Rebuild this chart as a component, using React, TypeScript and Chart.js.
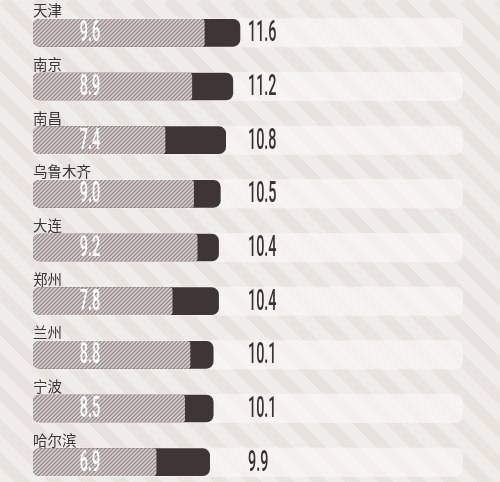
import { useEffect, useRef } from 'react';
import { Chart, ChartConfiguration, Plugin, registerables } from 'chart.js';

Chart.register(...registerables);

// city rows, top to bottom
const cities = ['天津', '南京', '南昌', '乌鲁木齐', '大连', '郑州', '兰州', '宁波', '哈尔滨'];
// dark bar (total) values
const totalValues = [11.6, 11.2, 10.8, 10.5, 10.4, 10.4, 10.1, 10.1, 9.9];
// hatched bar values
const innerValues = [9.6, 8.9, 7.4, 9.0, 9.2, 7.8, 8.8, 8.5, 6.9];

const X_MAX = 24.1;

function makeHatch(): CanvasPattern | string {
    const s = 4;
    const c = document.createElement('canvas');
    c.width = s;
    c.height = s;
    const g = c.getContext('2d');
    if (!g) return '#a39696';
    g.fillStyle = '#9a8d8d';
    g.fillRect(0, 0, s, s);
    g.strokeStyle = '#ddd5d5';
    g.lineWidth = 1.3;
    g.beginPath();
    g.moveTo(0, s); g.lineTo(s, 0);
    g.moveTo(-1, 1); g.lineTo(1, -1);
    g.moveTo(s - 1, s + 1); g.lineTo(s + 1, s - 1);
    g.stroke();
    return g.createPattern(c, 'repeat') || '#a39696';
}

// faint diagonal stripes behind everything
const backgroundPlugin: Plugin = {
    id: 'stripes',
    beforeDraw(chart) {
        const { ctx, width, height } = chart;
        ctx.save();
        ctx.fillStyle = '#efedea';
        ctx.fillRect(0, 0, width, height);
        ctx.strokeStyle = 'rgba(224, 214, 204, 0.4)';
        ctx.lineWidth = 11;
        for (let k = -height; k < width + height; k += 33) {
            ctx.beginPath();
            ctx.moveTo(k, 0);
            ctx.lineTo(k + height, height);
            ctx.stroke();
        }
        ctx.restore();
    },
};

// pale rounded track behind each row
const trackPlugin: Plugin = {
    id: 'tracks',
    beforeDatasetsDraw(chart) {
        const { ctx, chartArea } = chart;
        const meta = chart.getDatasetMeta(0);
        ctx.save();
        ctx.fillStyle = 'rgba(250, 249, 248, 0.6)';
        meta.data.forEach((bar: any) => {
            ctx.beginPath();
            ctx.roundRect(chartArea.left, bar.y - 14.5, chartArea.right - chartArea.left, 29, 8);
            ctx.fill();
        });
        ctx.restore();
    },
};

function condensedText(ctx: CanvasRenderingContext2D, text: string, x: number, y: number, sx: number) {
    ctx.save();
    ctx.translate(x, y);
    ctx.scale(sx, 1);
    ctx.fillText(text, 0, 0);
    ctx.restore();
}

const labelPlugin: Plugin = {
    id: 'rowLabels',
    afterDatasetsDraw(chart) {
        const { ctx, chartArea } = chart;
        const meta = chart.getDatasetMeta(0);
        ctx.save();
        meta.data.forEach((bar: any, i: number) => {
            const top = bar.y - 13.5;
            // city name
            ctx.font = '14.5px "Noto Sans CJK SC", sans-serif';
            ctx.fillStyle = '#3a3636';
            ctx.textAlign = 'left';
            ctx.textBaseline = 'alphabetic';
            ctx.fillText(cities[i], chartArea.left, top - 3);

            ctx.font = '500 30px Roboto, sans-serif';
            ctx.textBaseline = 'middle';
            // value inside hatched bar
            ctx.textAlign = 'center';
            ctx.fillStyle = '#ffffff';
            condensedText(ctx, innerValues[i].toFixed(1), chartArea.left + 57, bar.y + 1, 0.48);
            // total value to the right
            ctx.textAlign = 'left';
            ctx.fillStyle = '#3a3232';
            condensedText(ctx, totalValues[i].toFixed(1), chartArea.left + 215, bar.y + 1, 0.48);
        });
        ctx.restore();
    },
};

export default function App() {
    const canvasRef = useRef<HTMLCanvasElement | null>(null);
    const chartRef = useRef<Chart | null>(null);

    useEffect(() => {
        if (!canvasRef.current) return;
        const hatch = makeHatch();

        const config: ChartConfiguration = {
            type: 'bar',
            data: {
                labels: cities,
                datasets: [
                    {
                        label: 'total',
                        data: totalValues,
                        backgroundColor: '#3e3535',
                        borderRadius: 7,
                        borderSkipped: false,
                        barThickness: 27,
                        grouped: false,
                        order: 2,
                    },
                    {
                        label: 'inner',
                        data: innerValues,
                        backgroundColor: hatch as any,
                        borderRadius: { topLeft: 7, bottomLeft: 7, topRight: 3, bottomRight: 3 },
                        borderSkipped: false,
                        barThickness: 27,
                        grouped: false,
                        order: 1,
                    },
                ],
            },
            options: {
                indexAxis: 'y',
                responsive: false,
                animation: false,
                layout: { padding: { left: 33, right: 37, top: 6, bottom: 3 } },
                scales: {
                    x: { display: false, min: 0, max: X_MAX },
                    y: { display: false },
                },
                plugins: {
                    legend: { display: false },
                    tooltip: { enabled: false },
                },
            },
            plugins: [backgroundPlugin, trackPlugin, labelPlugin],
        };

        chartRef.current = new Chart(canvasRef.current, config);

        return () => {
            if (chartRef.current) {
                chartRef.current.destroy();
                chartRef.current = null;
            }
        };
    }, []);

    return (
        <div style={{ position: 'fixed', left: 0, top: 0, width: 500, height: 482, overflow: 'hidden' }}>
            <canvas ref={canvasRef} width={500} height={492}></canvas>
        </div>
    );
}
